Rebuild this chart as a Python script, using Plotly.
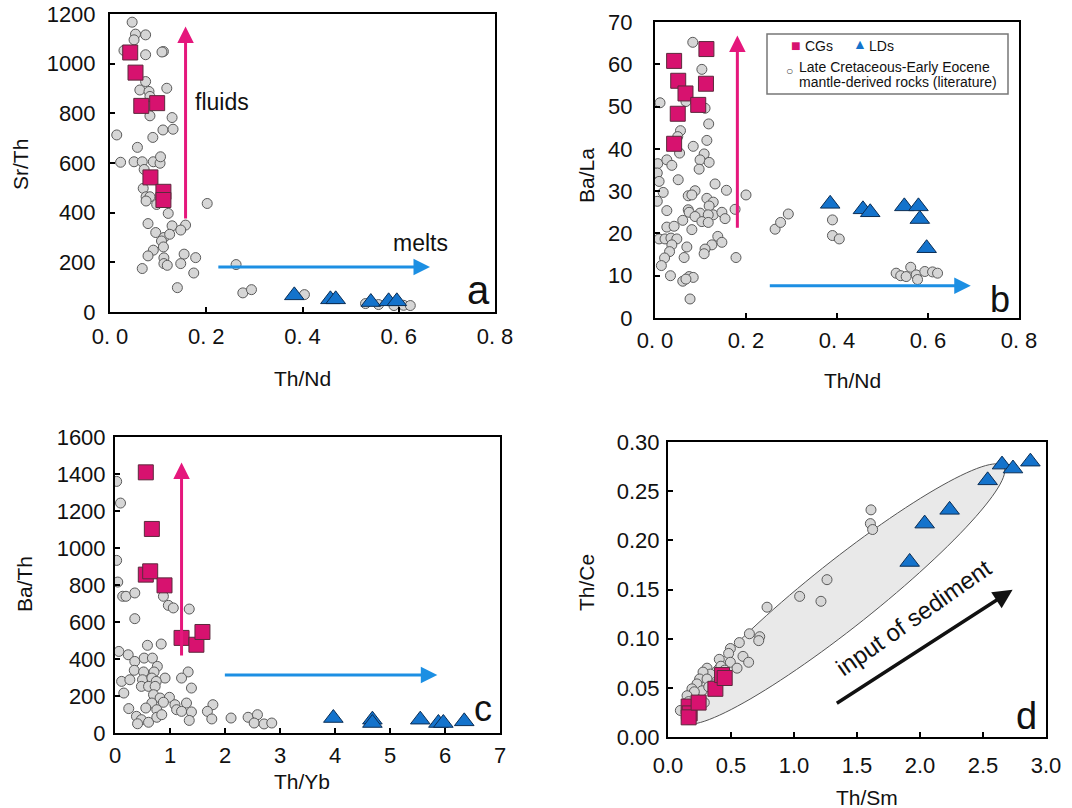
import numpy as np
import plotly.graph_objects as go

# ---------------- DATA ----------------
# Panel a : Th/Nd vs Sr/Th
a_lit_x = [0.046, 0.053, 0.074, 0.050, 0.029, 0.111, 0.074, 0.074, 0.062, 0.081,
           0.118, 0.083, 0.083, 0.129, 0.110, 0.131, 0.089, 0.014, 0.057, 0.022,
           0.050, 0.067, 0.090, 0.104, 0.105, 0.071, 0.069, 0.075, 0.083, 0.075,
           0.097, 0.202, 0.121, 0.079, 0.129, 0.157, 0.147, 0.095, 0.112, 0.124,
           0.107, 0.111, 0.090, 0.079, 0.154, 0.178, 0.112, 0.112, 0.119, 0.147,
           0.067, 0.174, 0.262, 0.140, 0.276, 0.294, 0.404, 0.531, 0.558, 0.590,
           0.610, 0.624, 0.108]
a_lit_y = [1167, 1119, 1116, 1096, 1053, 1049, 1036, 928, 894, 888,
           901, 868, 790, 783, 733, 736, 703, 713, 663, 603,
           605, 605, 605, 599, 625, 574, 498, 464, 464, 447,
           433, 437, 397, 356, 347, 350, 330, 320, 300, 313,
           286, 262, 249, 226, 233, 219, 218, 195, 188, 195,
           175, 157, 191, 98, 77, 90, 70, 34, 30, 26,
           27, 26, 1047]
a_cg_x = [0.042, 0.053, 0.065, 0.098, 0.084, 0.111, 0.111]
a_cg_y = [1045, 964, 830, 841, 542, 484, 451]
a_ld_x = [0.383, 0.458, 0.469, 0.542, 0.579, 0.596]
a_ld_y = [67, 51, 51, 40, 43, 43]

# Panel b : Th/Nd vs Ba/La
b_lit_x = [0.083, 0.103, 0.011, 0.068, 0.110, 0.118, 0.056, 0.050, 0.114, 0.084,
           0.054, 0.108, 0.099, 0.119, 0.006, 0.026, 0.037, 0.097, 0.005, 0.009,
           0.051, 0.132, 0.018, 0.088, 0.073, 0.081, 0.157, 0.200, 0.005, 0.114,
           0.128, 0.119, 0.026, 0.073, 0.075, 0.176, 0.099, 0.128, 0.117, 0.147,
           0.088, 0.154, 0.061, 0.103, 0.117, 0.081, 0.026, 0.042, 0.009, 0.022,
           0.035, 0.048, 0.037, 0.070, 0.138, 0.147, 0.125, 0.110, 0.108, 0.032,
           0.021, 0.064, 0.178, 0.014, 0.034, 0.075, 0.084, 0.061, 0.068, 0.077,
           0.264, 0.276, 0.293, 0.390, 0.390, 0.405, 0.530, 0.540, 0.552, 0.562,
           0.574, 0.577, 0.593, 0.610, 0.621]
b_lit_y = [65.2, 58.8, 50.9, 51.2, 49.6, 45.9, 44.3, 42.9, 42.0, 40.6,
           39.0, 38.8, 37.4, 36.8, 36.5, 37.4, 36.1, 35.2, 34.3, 32.3,
           32.7, 31.7, 29.7, 30.1, 28.9, 29.1, 30.2, 29.1, 27.6, 28.3,
           27.4, 26.5, 25.4, 25.6, 25.0, 25.7, 24.8, 24.4, 24.4, 25.0,
           24.0, 23.5, 23.1, 22.8, 22.6, 20.9, 21.5, 21.7, 18.7, 18.7,
           18.9, 18.7, 17.3, 16.8, 19.3, 17.9, 17.3, 16.3, 15.2, 15.7,
           14.2, 14.3, 14.3, 12.4, 10.0, 9.8, 9.6, 8.7, 9.2, 4.5,
           21.0, 22.6, 24.6, 23.2, 19.5, 18.7, 10.6, 10.0, 9.8, 12.0,
           10.2, 9.1, 11.0, 10.9, 10.6]
b_cg_x = [0.042, 0.113, 0.051, 0.112, 0.067, 0.095, 0.050, 0.042]
b_cg_y = [60.8, 63.6, 56.1, 55.4, 53.1, 50.4, 48.3, 41.2]
b_ld_x = [0.385, 0.457, 0.473, 0.548, 0.579, 0.582, 0.597]
b_ld_y = [27.0, 25.7, 25.0, 26.4, 26.4, 23.4, 16.5]

# Panel c : Th/Yb vs Ba/Th
c_lit_x = [0.03, 0.10, 0.03, 0.05, 0.14, 0.20, 0.36, 0.36, 0.88, 0.97,
           1.06, 1.35, 0.59, 0.84, 0.07, 0.24, 0.36, 0.53, 0.68, 0.77,
           0.35, 0.52, 0.71, 1.33, 1.21, 0.91, 0.12, 0.27, 0.50, 0.67,
           0.75, 0.48, 0.61, 0.73, 1.39, 0.16, 0.70, 0.82, 0.99, 0.67,
           0.88, 1.09, 1.30, 1.78, 0.25, 0.56, 0.76, 1.12, 1.21, 1.39,
           1.68, 0.39, 0.48, 0.41, 0.61, 0.76, 0.85, 1.35, 1.76, 2.11,
           2.42, 2.59, 2.53, 2.71, 2.85]
c_lit_y = [1360, 1243, 933, 816, 739, 739, 757, 618, 739, 690,
           676, 670, 474, 481, 441, 423, 387, 405, 405, 360,
           339, 330, 330, 330, 297, 297, 279, 288, 288, 297,
           279, 252, 252, 252, 243, 216, 207, 189, 193, 162,
           166, 153, 162, 153, 132, 135, 126, 126, 117, 114,
           117, 90, 72, 50, 58, 85, 99, 68, 76, 81,
           85, 99, 54, 49, 54]
c_cg_x = [0.56, 0.67, 0.56, 0.64, 0.90, 1.21, 1.48, 1.59]
c_cg_y = [1409, 1103, 856, 874, 798, 514, 477, 546]
c_ld_x = [3.97, 4.68, 4.68, 5.55, 5.88, 5.97, 6.35]
c_ld_y = [81, 72, 54, 72, 54, 54, 63]

# Panel d : Th/Sm vs Th/Ce
d_lit_x = [1.611, 1.606, 1.624, 1.262, 1.045, 1.214, 0.786, 0.646, 0.728, 0.720,
           0.566, 0.495, 0.481, 0.595, 0.640, 0.407, 0.495, 0.548, 0.310, 0.336,
           0.278, 0.251, 0.310, 0.230, 0.190, 0.270, 0.209, 0.151, 0.164, 0.288,
           0.098, 0.323, 0.362, 0.420, 0.450]
d_lit_y = [0.231, 0.217, 0.211, 0.160, 0.143, 0.138, 0.132, 0.105, 0.102, 0.098,
           0.096, 0.090, 0.085, 0.082, 0.076, 0.079, 0.076, 0.070, 0.070, 0.064,
           0.066, 0.059, 0.059, 0.054, 0.049, 0.047, 0.046, 0.042, 0.036, 0.035,
           0.027, 0.051, 0.053, 0.072, 0.068]
d_cg_x = [0.164, 0.172, 0.164, 0.243, 0.376, 0.429, 0.450]
d_cg_y = [0.031, 0.024, 0.020, 0.035, 0.049, 0.063, 0.060]
d_ld_x = [1.918, 2.037, 2.235, 2.537, 2.651, 2.738, 2.876]
d_ld_y = [0.178, 0.217, 0.231, 0.261, 0.277, 0.273, 0.280]

# ---------------- LAYOUT / STYLE ----------------
W, H = 1072, 808
FONT = "Liberation Sans, Arial, sans-serif"
PINK = "#D7126F"
BLUE = "#1473CC"
LIT_FILL = "#D6D6D6"
ARROW_PINK = "#E5177C"
ARROW_BLUE = "#1C8FE3"


def fx(p):
    return p / W


def fy(p):
    return 1 - p / H


# plot-area boxes in pixels (left, top, right, bottom)
boxes = {
    "a": (110, 14, 495, 312),
    "b": (655, 22, 1019, 318),
    "c": (115, 437, 500, 733),
    "d": (668, 442, 1046, 737),
}

fig = go.Figure()

panels = [
    ("x", "y", a_lit_x, a_lit_y, a_cg_x, a_cg_y, a_ld_x, a_ld_y),
    ("x2", "y2", b_lit_x, b_lit_y, b_cg_x, b_cg_y, b_ld_x, b_ld_y),
    ("x3", "y3", c_lit_x, c_lit_y, c_cg_x, c_cg_y, c_ld_x, c_ld_y),
    ("x4", "y4", d_lit_x, d_lit_y, d_cg_x, d_cg_y, d_ld_x, d_ld_y),
]
for xa, ya, lx, ly, cx, cy, tx, ty in panels:
    fig.add_trace(go.Scatter(x=lx, y=ly, xaxis=xa, yaxis=ya, mode="markers",
                             marker=dict(symbol="circle", size=10, color=LIT_FILL,
                                         line=dict(color="#5A5A5A", width=1)),
                             showlegend=False, hoverinfo="skip"))
    fig.add_trace(go.Scatter(x=cx, y=cy, xaxis=xa, yaxis=ya, mode="markers",
                             marker=dict(symbol="square", size=15, color=PINK,
                                         line=dict(color="#5B2A3C", width=1)),
                             showlegend=False, hoverinfo="skip"))
    fig.add_trace(go.Scatter(x=tx, y=ty, xaxis=xa, yaxis=ya, mode="markers",
                             marker=dict(symbol="triangle-up", size=17, color=BLUE,
                                         line=dict(color="#0B2E55", width=1)),
                             showlegend=False, hoverinfo="skip"))


def axis(box, horizontal, rng, tickvals, ticktext, anchor, standoff):
    l, t, r, b = box
    dom = [fx(l), fx(r)] if horizontal else [fy(b), fy(t)]
    return dict(domain=dom, range=rng, anchor=anchor, tickvals=tickvals,
                ticktext=ticktext, showline=True, mirror=True, linecolor="black",
                linewidth=2, ticks="inside", ticklen=5, tickwidth=1.5,
                tickcolor="black", showgrid=False, zeroline=False,
                automargin=False, ticklabelstandoff=standoff,
                tickfont=dict(family=FONT, size=22, color="#111111"))


nd_vals = [0, 0.2, 0.4, 0.6, 0.8]
nd_text = ["0. 0", "0. 2", "0. 4", "0. 6", "0. 8"]
fig.update_layout(
    xaxis=axis(boxes["a"], True, [0, 0.8], nd_vals, nd_text, "y", 4),
    yaxis=axis(boxes["a"], False, [0, 1200], list(range(0, 1201, 200)),
               [str(v) for v in range(0, 1201, 200)], "x", 8),
    xaxis2=axis(boxes["b"], True, [0, 0.8], nd_vals, nd_text, "y2", 2),
    yaxis2=axis(boxes["b"], False, [0, 70], list(range(0, 71, 10)),
                [str(v) for v in range(0, 71, 10)], "x2", 16),
    xaxis3=axis(boxes["c"], True, [0, 7], list(range(0, 8)),
                [str(v) for v in range(0, 8)], "y3", 2),
    yaxis3=axis(boxes["c"], False, [0, 1600], list(range(0, 1601, 200)),
                [str(v) for v in range(0, 1601, 200)], "x3", 3),
    xaxis4=axis(boxes["d"], True, [0, 3], [0, 0.5, 1, 1.5, 2, 2.5, 3],
                ["0.0", "0.5", "1.0", "1.5", "2.0", "2.5", "3.0"], "y4", 8),
    yaxis4=axis(boxes["d"], False, [0, 0.3], [0, 0.05, 0.1, 0.15, 0.2, 0.25, 0.3],
                ["0.00", "0.05", "0.10", "0.15", "0.20", "0.25", "0.30"], "x4", 2),
)

annotations = []


def text_px(txt, x, y, size, angle=0, xanchor="center", color="#111111", align="center"):
    annotations.append(dict(text=txt, x=fx(x), y=fy(y), xref="paper", yref="paper",
                            showarrow=False, textangle=angle, xanchor=xanchor,
                            yanchor="middle", align=align,
                            font=dict(family=FONT, size=size, color=color)))


# axis titles
text_px("Sr/Th", 21, 165, 21, -90)
text_px("Th/Nd", 302, 378, 21)
text_px("Ba/La", 587, 176, 21, -90)
text_px("Th/Nd", 852, 380, 21)
text_px("Ba/Th", 24, 584, 21, -90)
text_px("Th/Yb", 302, 781, 21)
text_px("Th/Ce", 586, 583, 21, -90)
text_px("Th/Sm", 867, 797, 21)

# panel letters
text_px("a", 478, 290, 40)
text_px("b", 1000, 299, 36)
text_px("c", 483, 708, 36)
text_px("d", 1026, 716, 38)


def arrow(xa, ya, x0, y0, x1, y1, color, width):
    annotations.append(dict(x=x1, y=y1, ax=x0, ay=y0, xref=xa, yref=ya,
                            axref=xa, ayref=ya, text="", showarrow=True,
                            arrowhead=2, arrowsize=1.1, arrowwidth=width,
                            arrowcolor=color))


arrow("x", "y", 0.157, 370, 0.157, 1150, ARROW_PINK, 3)
arrow("x", "y", 0.222, 181, 0.665, 181, ARROW_BLUE, 3)
arrow("x2", "y2", 0.181, 21.0, 0.181, 66.8, ARROW_PINK, 3)
arrow("x2", "y2", 0.249, 7.6, 0.694, 7.6, ARROW_BLUE, 3)
arrow("x3", "y3", 1.21, 411, 1.21, 1462, ARROW_PINK, 3)
arrow("x3", "y3", 1.97, 313, 5.86, 313, ARROW_BLUE, 3)
arrow("x4", "y4", 1.328, 0.0333, 2.735, 0.1497, "#111111", 3.5)

annotations.append(dict(text="fluids", x=0.173, y=847, xref="x", yref="y",
                        showarrow=False, xanchor="left", yanchor="middle",
                        font=dict(family=FONT, size=23, color="#111111")))
annotations.append(dict(text="melts", x=0.583, y=276, xref="x", yref="y",
                        showarrow=False, xanchor="left", yanchor="middle",
                        font=dict(family=FONT, size=23, color="#111111")))
annotations.append(dict(text="input of sediment", x=1.95, y=0.1215, xref="x4", yref="y4",
                        showarrow=False, textangle=-35, xanchor="center",
                        yanchor="middle",
                        font=dict(family=FONT, size=24, color="#111111")))

# legend (panel b)
text_px("■", 796, 45, 16, color=PINK)
text_px("CGs", 803, 46, 14, xanchor="left")
text_px("▲", 860, 44, 14, color=BLUE)
text_px("LDs", 867, 46, 14, xanchor="left")
text_px("○", 789, 71, 12, color="#444444")
text_px("Late Cretaceous-Early Eocene", 797, 67, 14, xanchor="left")
text_px("mantle-derived rocks (literature)", 797, 82, 14, xanchor="left")

shapes = [dict(type="rect", xref="paper", yref="paper", x0=fx(767), x1=fx(1008),
               y0=fy(94), y1=fy(34), line=dict(color="#777777", width=1.5),
               fillcolor="white", layer="below")]

# ellipse in panel d (defined in pixel geometry, mapped to data units)
l, t, r, b = boxes["d"]
sx = (r - l) / 3.0       # px per x unit
sy = (b - t) / 0.3       # px per y unit
ell_cx, ell_cy = 1.389, 0.1454
ell_a, ell_b, ell_ang = 205, 33, np.deg2rad(38.5)
tt = np.linspace(0, 2 * np.pi, 121)
ux, uy = np.cos(ell_ang), np.sin(ell_ang)
px_ = ell_a * np.cos(tt) * ux - ell_b * np.sin(tt) * uy
py_ = ell_a * np.cos(tt) * uy + ell_b * np.sin(tt) * ux
ex = ell_cx + px_ / sx
ey = ell_cy + py_ / sy
path = "M " + " L ".join(f"{xx:.4f},{yy:.5f}" for xx, yy in zip(ex, ey)) + " Z"
shapes.append(dict(type="path", path=path, xref="x4", yref="y4",
                   fillcolor="#E9E9E9", line=dict(color="#555555", width=1),
                   layer="below"))

fig.update_layout(annotations=annotations, shapes=shapes,
                  width=W, height=H, margin=dict(l=0, r=0, t=0, b=0),
                  paper_bgcolor="white", plot_bgcolor="rgba(0,0,0,0)",
                  showlegend=False)

fig.write_html("out.html",
               post_script="document.body.style.margin='0px';"
                           "document.body.style.padding='0px';"
                           "document.body.style.overflow='hidden';")
